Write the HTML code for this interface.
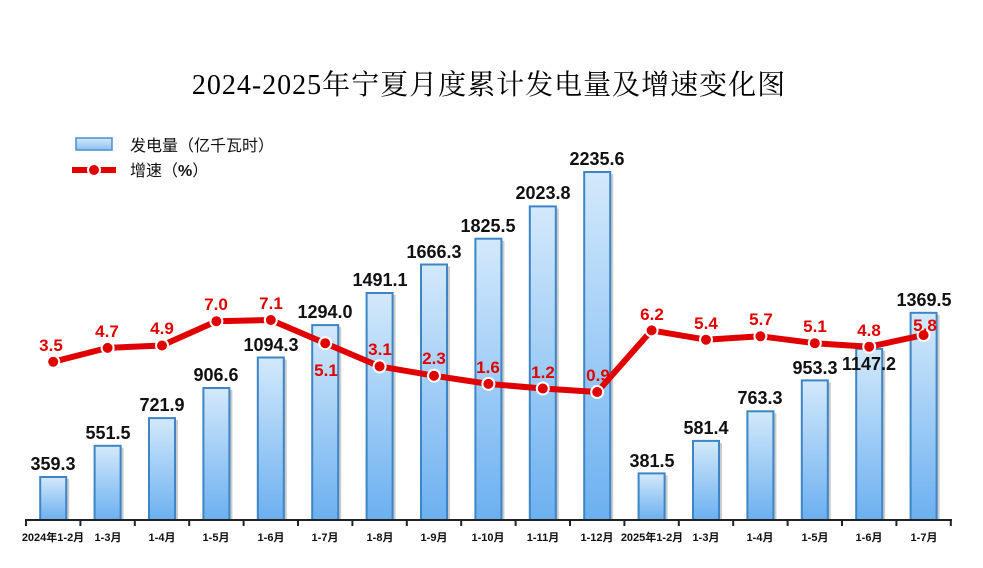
<!DOCTYPE html>
<html><head><meta charset="utf-8"><style>
html,body{margin:0;padding:0;background:#fff}
svg{display:block}
.v{font:bold 18px "Liberation Sans","Noto Sans CJK SC",sans-serif;fill:#111;text-anchor:middle}
.r{font:bold 17px "Liberation Sans","Noto Sans CJK SC",sans-serif;fill:#e00000;text-anchor:middle}
.x{font:bold 11px "Liberation Sans","Noto Sans CJK SC",sans-serif;fill:#111;text-anchor:middle}
</style></head><body>
<svg width="983" height="568" viewBox="0 0 983 568" xmlns="http://www.w3.org/2000/svg">
<defs>
<linearGradient id="g" x1="0" y1="0" x2="0" y2="1"><stop offset="0" stop-color="#d3e9fb"/><stop offset="1" stop-color="#6cb0f0"/></linearGradient>
<linearGradient id="gl" x1="0" y1="0" x2="0" y2="1"><stop offset="0" stop-color="#d3e9fb"/><stop offset="1" stop-color="#8cc0f0"/></linearGradient>
</defs>
<text x="489" y="94" text-anchor="middle" style="font:28px 'Liberation Serif','Noto Serif CJK SC',serif;fill:#000;letter-spacing:1px">2024-2025年宁夏月度累计发电量及增速变化图</text>
<rect x="76" y="138" width="36" height="12" fill="url(#gl)" stroke="#4a8fd0" stroke-width="1.5"/>
<text x="130" y="151" style="font:16px 'Liberation Sans','Noto Sans CJK SC',sans-serif;fill:#111">发电量（亿千瓦时）</text>
<line x1="72" y1="170" x2="116" y2="170" stroke="#e00000" stroke-width="6"/>
<circle cx="94" cy="170" r="6" fill="#e00000" stroke="#fff" stroke-width="2"/>
<text x="130" y="176" style="font:16px 'Liberation Sans','Noto Sans CJK SC',sans-serif;fill:#111">增速（<tspan font-weight="bold">%</tspan>）</text>
<g fill="#999" opacity="0.5" transform="translate(3,2)">
<rect x="40.2" y="477" width="26" height="41"/><rect x="94.6" y="445.8" width="26" height="72.2"/><rect x="149" y="418.1" width="26" height="99.9"/><rect x="203.4" y="388" width="26" height="130"/><rect x="257.8" y="357.5" width="26" height="160.5"/><rect x="312.2" y="325.1" width="26" height="192.9"/><rect x="366.6" y="293" width="26" height="225"/><rect x="421" y="264.5" width="26" height="253.5"/><rect x="475.4" y="238.7" width="26" height="279.3"/><rect x="529.8" y="206.4" width="26" height="311.6"/><rect x="584.2" y="172" width="26" height="346"/><rect x="638.6" y="473.4" width="26" height="44.6"/><rect x="693" y="440.9" width="26" height="77.1"/><rect x="747.4" y="411.3" width="26" height="106.7"/><rect x="801.8" y="380.4" width="26" height="137.6"/><rect x="856.2" y="348.9" width="26" height="169.1"/><rect x="910.6" y="312.8" width="26" height="205.2"/>
</g>
<g fill="url(#g)" stroke="#3d85c6" stroke-width="2">
<rect x="40.2" y="477" width="26" height="43"/>
<rect x="94.6" y="445.8" width="26" height="74.2"/>
<rect x="149" y="418.1" width="26" height="101.9"/>
<rect x="203.4" y="388" width="26" height="132"/>
<rect x="257.8" y="357.5" width="26" height="162.5"/>
<rect x="312.2" y="325.1" width="26" height="194.9"/>
<rect x="366.6" y="293" width="26" height="227"/>
<rect x="421" y="264.5" width="26" height="255.5"/>
<rect x="475.4" y="238.7" width="26" height="281.3"/>
<rect x="529.8" y="206.4" width="26" height="313.6"/>
<rect x="584.2" y="172" width="26" height="348"/>
<rect x="638.6" y="473.4" width="26" height="46.6"/>
<rect x="693" y="440.9" width="26" height="79.1"/>
<rect x="747.4" y="411.3" width="26" height="108.7"/>
<rect x="801.8" y="380.4" width="26" height="139.6"/>
<rect x="856.2" y="348.9" width="26" height="171.1"/>
<rect x="910.6" y="312.8" width="26" height="207.2"/>
</g>
<g stroke="#222" stroke-width="2">
<line x1="25" y1="520" x2="952" y2="520"/>
<line x1="26" y1="520" x2="26" y2="526"/><line x1="80.4" y1="520" x2="80.4" y2="526"/><line x1="134.8" y1="520" x2="134.8" y2="526"/><line x1="189.2" y1="520" x2="189.2" y2="526"/><line x1="243.6" y1="520" x2="243.6" y2="526"/><line x1="298" y1="520" x2="298" y2="526"/><line x1="352.4" y1="520" x2="352.4" y2="526"/><line x1="406.8" y1="520" x2="406.8" y2="526"/><line x1="461.2" y1="520" x2="461.2" y2="526"/><line x1="515.6" y1="520" x2="515.6" y2="526"/><line x1="570" y1="520" x2="570" y2="526"/><line x1="624.4" y1="520" x2="624.4" y2="526"/><line x1="678.8" y1="520" x2="678.8" y2="526"/><line x1="733.2" y1="520" x2="733.2" y2="526"/><line x1="787.6" y1="520" x2="787.6" y2="526"/><line x1="842" y1="520" x2="842" y2="526"/><line x1="896.4" y1="520" x2="896.4" y2="526"/><line x1="950.8" y1="520" x2="950.8" y2="526"/>
</g>
<g class="x">
<text x="53" y="541">2024年1-2月</text><text x="108" y="541">1-3月</text><text x="162" y="541">1-4月</text><text x="216" y="541">1-5月</text><text x="271" y="541">1-6月</text><text x="325" y="541">1-7月</text><text x="380" y="541">1-8月</text><text x="434" y="541">1-9月</text><text x="488" y="541">1-10月</text><text x="543" y="541">1-11月</text><text x="597" y="541">1-12月</text><text x="652" y="541">2025年1-2月</text><text x="706" y="541">1-3月</text><text x="760" y="541">1-4月</text><text x="815" y="541">1-5月</text><text x="869" y="541">1-6月</text><text x="924" y="541">1-7月</text>
</g>
<g class="v">
<text x="53" y="470">359.3</text><text x="108" y="439">551.5</text><text x="162" y="411">721.9</text><text x="216" y="381">906.6</text><text x="271" y="351">1094.3</text><text x="325" y="318">1294.0</text><text x="380" y="286">1491.1</text><text x="434" y="258">1666.3</text><text x="488" y="232">1825.5</text><text x="543" y="199">2023.8</text><text x="597" y="165">2235.6</text><text x="652" y="467">381.5</text><text x="706" y="434">581.4</text><text x="760" y="404">763.3</text><text x="815" y="374">953.3</text><text x="869" y="370">1147.2</text><text x="924" y="306">1369.5</text>
</g>
<polyline fill="none" stroke="#e00000" stroke-width="6" stroke-linejoin="round" points="53.2,361.8 107.6,347.9 162,345.5 216.4,321.2 270.8,320 325.2,343.2 379.6,366.4 434,375.7 488.4,383.9 542.8,388.5 597.2,392 651.6,330.4 706,339.7 760.4,336.3 814.8,343.2 869.2,346.7 923.6,335.1"/>
<g fill="#e00000" stroke="#fff" stroke-width="2">
<circle cx="53.2" cy="361.8" r="6"/><circle cx="107.6" cy="347.9" r="6"/><circle cx="162" cy="345.5" r="6"/><circle cx="216.4" cy="321.2" r="6"/><circle cx="270.8" cy="320" r="6"/><circle cx="325.2" cy="343.2" r="6"/><circle cx="379.6" cy="366.4" r="6"/><circle cx="434" cy="375.7" r="6"/><circle cx="488.4" cy="383.9" r="6"/><circle cx="542.8" cy="388.5" r="6"/><circle cx="597.2" cy="392" r="6"/><circle cx="651.6" cy="330.4" r="6"/><circle cx="706" cy="339.7" r="6"/><circle cx="760.4" cy="336.3" r="6"/><circle cx="814.8" cy="343.2" r="6"/><circle cx="869.2" cy="346.7" r="6"/><circle cx="923.6" cy="335.1" r="6"/>
</g>
<g class="r">
<text x="51" y="351">3.5</text><text x="107" y="337">4.7</text><text x="162" y="334">4.9</text><text x="216" y="310">7.0</text><text x="271" y="309">7.1</text><text x="326" y="376">5.1</text><text x="380" y="355">3.1</text><text x="434" y="364">2.3</text><text x="488" y="373">1.6</text><text x="543" y="378">1.2</text><text x="598" y="381">0.9</text><text x="652" y="320">6.2</text><text x="706" y="329">5.4</text><text x="761" y="325">5.7</text><text x="815" y="332">5.1</text><text x="869" y="336">4.8</text><text x="925" y="331">5.8</text>
</g>
</svg>
</body></html>
